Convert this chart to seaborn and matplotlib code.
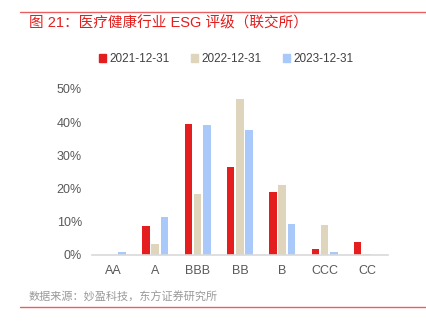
import matplotlib
matplotlib.use("Agg")
import matplotlib.pyplot as plt
import seaborn as sns
import pandas as pd
from matplotlib.lines import Line2D
from matplotlib.ticker import PercentFormatter

# ESG rating distribution of healthcare companies (HKEX), share of companies
ratings = ["AA", "A", "BBB", "BB", "B", "CCC", "CC"]
periods = ["2021-12-31", "2022-12-31", "2023-12-31"]
share_2021 = [0.0, 8.7, 39.4, 26.4, 18.9, 1.8, 3.9]
share_2022 = [0.0, 3.3, 18.3, 47.1, 21.1, 9.1, 0.4]
share_2023 = [0.9, 11.4, 39.3, 37.7, 9.3, 0.9, 0.0]

colors = ["#E41E1E", "#DFD5BD", "#A9C9FB"]

df = pd.DataFrame({
    "rating": ratings * 3,
    "period": [p for p in periods for _ in ratings],
    "share": share_2021 + share_2022 + share_2023,
})

sns.set_style("white")
plt.rcParams["font.family"] = ["Liberation Sans", "Noto Sans CJK SC", "DejaVu Sans"]

fig = plt.figure(figsize=(4.27, 3.25), dpi=100)
ax = fig.add_axes([0.2148, 0.2154, 0.694, 0.5108])

sns.barplot(data=df, x="rating", y="share", hue="period", order=ratings,
            hue_order=periods, palette=colors, width=0.66, gap=0.2,
            saturation=1, legend=False, ax=ax, linewidth=0)

ax.set_xlim(-0.5, len(ratings) - 0.5)
ax.set_ylim(0, 50)
ax.set_yticks([0, 10, 20, 30, 40, 50])
ax.yaxis.set_major_formatter(PercentFormatter(decimals=0))
ax.set_xlabel("")
ax.set_ylabel("")
for side in ["top", "right", "left"]:
    ax.spines[side].set_visible(False)
ax.spines["bottom"].set_color("#D9D9D9")
ax.spines["bottom"].set_linewidth(1.2)
ax.tick_params(axis="both", length=0, labelsize=9, labelcolor="#595959")
ax.tick_params(axis="y", pad=7)
ax.tick_params(axis="x", pad=7)

# legend
handles = [plt.Rectangle((0, 0), 1, 1, color=c) for c in colors]
fig.legend(handles, periods, loc="center", bbox_to_anchor=(0.53, 0.818),
           ncol=3, frameon=False, fontsize=8.5, handlelength=0.6,
           handleheight=0.6, handletextpad=0.3, columnspacing=1.8,
           labelcolor="#404040")

# title, source and rules
red = "#E41E1E"
fig.add_artist(Line2D([20 / 427, 1.0], [1 - 12 / 325] * 2, color="#E86060",
                      linewidth=1.0))
fig.text(29 / 427, 1 - 23 / 325, "图 21：医疗健康行业 ESG 评级（联交所）",
         color=red, fontsize=10.5, fontweight="medium", va="center", ha="left",
         family=["Liberation Sans", "Noto Sans CJK SC", "DejaVu Sans"])
fig.text(29 / 427, 1 - 297 / 325, "数据来源：妙盈科技，东方证券研究所",
         color="#999999", fontsize=8, va="center", ha="left",
         family=["Noto Sans CJK SC", "DejaVu Sans"])
fig.add_artist(Line2D([20 / 427, 1.0], [1 - 307 / 325] * 2, color="#E86060",
                      linewidth=1.0))

fig.savefig("out.png", dpi=100)
